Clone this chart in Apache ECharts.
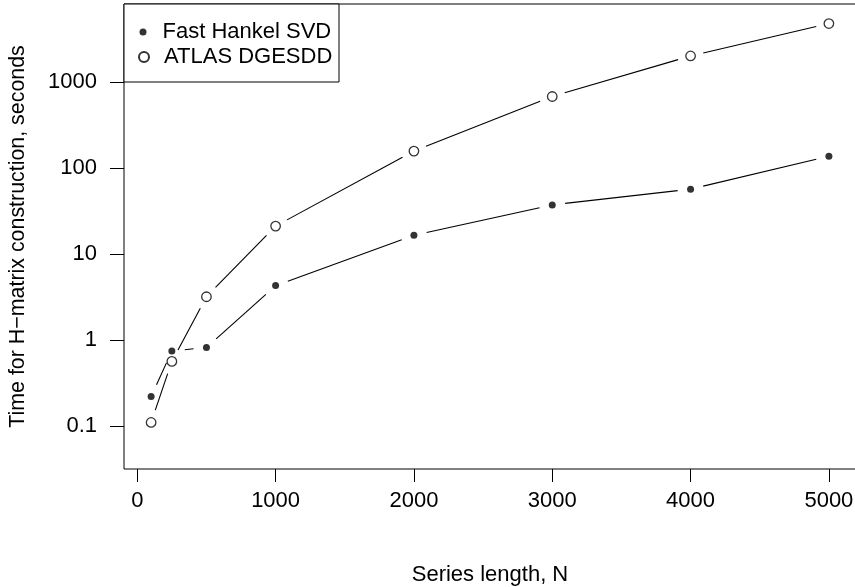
<!DOCTYPE html>
<html lang="en">
<head>
<meta charset="UTF-8">
<title>Hankel SVD timings</title>
<script src="https://cdn.jsdelivr.net/npm/echarts@6/dist/echarts.min.js"></script>
<style>html, body { margin: 0; padding: 0; background: #fff; }</style>
</head>
<body>
<div id="main" style="width:855px;height:587px;"></div>
<script>
// data (log y)
var seriesLength = [100, 250, 500, 1000, 2000, 3000, 4000, 5000];
var fastHankel   = [0.22, 0.745, 0.82, 4.3, 16.6, 37.4, 57, 138];
var atlasDgesdd  = [0.11, 0.565, 3.19, 21.2, 158, 682, 2020, 4815];
var xTickLabels  = [0, 1000, 2000, 3000, 4000, 5000];
var yTickLabels  = [0.1, 1, 10, 100, 1000];

var FONT = 'Liberation Sans, Arial, Helvetica, sans-serif';
var FS = 22;

// plot box (R style, right edge just off the picture)
var box = { left: 124, top: 4, right: 856, bottom: 469 };
var xLim = [-96, 5196];
var yLim = [Math.pow(10, -1.5), Math.pow(10, 3.91)];
var gap = 13; // type="b" gap round each point

function xPix(v) {
    return box.left + (v - xLim[0]) / (xLim[1] - xLim[0]) * (box.right - box.left);
}
function yPix(v) {
    var l0 = Math.log10(yLim[0]), l1 = Math.log10(yLim[1]);
    return box.bottom - (Math.log10(v) - l0) / (l1 - l0) * (box.bottom - box.top);
}

function pairs(xs, ys) {
    return xs.map(function (x, i) { return [x, ys[i]]; });
}
function segments(xs, ys) {
    var out = [];
    for (var i = 0; i < xs.length - 1; i++) out.push([xs[i], ys[i], xs[i + 1], ys[i + 1]]);
    return out;
}
function fmt(v) { return String(+(+v).toPrecision(6)); }

function renderSegment(params, api) {
    var a = api.coord([api.value(0), api.value(1)]);
    var b = api.coord([api.value(2), api.value(3)]);
    var dx = b[0] - a[0], dy = b[1] - a[1];
    var len = Math.sqrt(dx * dx + dy * dy);
    if (len <= 2 * gap) return { type: 'group', children: [] };
    var ux = dx / len, uy = dy / len;
    return {
        type: 'line',
        shape: { x1: a[0] + ux * gap, y1: a[1] + uy * gap, x2: b[0] - ux * gap, y2: b[1] - uy * gap },
        style: { stroke: '#000', lineWidth: 1.1 }
    };
}

var txt = { fontFamily: FONT, fontSize: FS, color: '#000' };
var tickY0 = yPix(yTickLabels[yTickLabels.length - 1]);
var tickY1 = yPix(yTickLabels[0]);
var tickX0 = xPix(xTickLabels[0]);
var tickX1 = xPix(xTickLabels[xTickLabels.length - 1]);

function legendText(shift) {
    return { fontFamily: FONT, fontSize: FS, color: '#000', lineHeight: 24, padding: [0, 0, 0, shift] };
}

var chart = echarts.init(document.getElementById('main'));
chart.setOption({
    animation: false,
    backgroundColor: '#fff',
    grid: [
        { left: box.left, top: box.top, width: box.right - box.left, height: box.bottom - box.top,
          outerBoundsMode: 'none', containLabel: false,
          show: true, borderColor: '#000', borderWidth: 1, backgroundColor: 'transparent' },
        { left: box.left, top: tickY0, width: box.right - box.left, height: tickY1 - tickY0,
          outerBoundsMode: 'none', containLabel: false },
        { left: tickX0, top: box.top, width: tickX1 - tickX0, height: box.bottom - box.top,
          outerBoundsMode: 'none', containLabel: false }
    ],
    xAxis: [
        { gridIndex: 0, type: 'value', min: xLim[0], max: xLim[1],
          name: 'Series length, N', nameLocation: 'middle', nameGap: 95, nameTextStyle: txt,
          axisLine: { show: false, onZero: false }, axisTick: { show: false },
          axisLabel: { show: false }, splitLine: { show: false } },
        { gridIndex: 1, type: 'value', min: 0, max: 1, show: false },
        { gridIndex: 2, type: 'value', min: xTickLabels[0], max: xTickLabels[xTickLabels.length - 1],
          interval: 1000,
          axisLine: { show: false, onZero: false },
          axisTick: { show: true, inside: false, length: 13, lineStyle: { color: '#000', width: 1 } },
          axisLabel: { show: true, margin: 21, formatter: fmt, fontFamily: FONT, fontSize: FS, color: '#000' },
          splitLine: { show: false } }
    ],
    yAxis: [
        { gridIndex: 0, type: 'log', logBase: 10, min: yLim[0], max: yLim[1],
          name: 'Time for H\u2212matrix construction, seconds', nameLocation: 'middle', nameGap: 95,
          nameTextStyle: { fontFamily: FONT, fontSize: 21.4, color: '#000' },
          axisLine: { show: false, onZero: false }, axisTick: { show: false },
          axisLabel: { show: false }, splitLine: { show: false } },
        { gridIndex: 1, type: 'log', logBase: 10, min: yTickLabels[0], max: yTickLabels[yTickLabels.length - 1],
          axisLine: { show: false, onZero: false },
          axisTick: { show: true, inside: false, length: 14, lineStyle: { color: '#000', width: 1 } },
          axisLabel: { show: true, margin: 27, formatter: fmt, fontFamily: FONT, fontSize: FS, color: '#000' },
          splitLine: { show: false } },
        { gridIndex: 2, type: 'value', min: 0, max: 1, show: false }
    ],
    legend: [
        { data: ['Fast Hankel SVD'], left: 139.5, top: 20, padding: 0, itemWidth: 7, itemHeight: 7,
          selectedMode: false, z: 6, textStyle: legendText(11) },
        { data: ['ATLAS DGESDD'], left: 138, top: 45, padding: 0, itemWidth: 10, itemHeight: 10,
          selectedMode: false, z: 6, textStyle: legendText(10) }
    ],
    graphic: [
        { type: 'rect', z: 5, shape: { x: box.left, y: box.top, width: 215, height: 78 },
          style: { fill: '#fff', stroke: '#000', lineWidth: 1 } }
    ],
    series: [
        { type: 'custom', name: 'fast-lines', xAxisIndex: 0, yAxisIndex: 0, silent: true,
          renderItem: renderSegment, encode: { x: [0, 2], y: [1, 3] },
          data: segments(seriesLength, fastHankel) },
        { type: 'custom', name: 'atlas-lines', xAxisIndex: 0, yAxisIndex: 0, silent: true,
          renderItem: renderSegment, encode: { x: [0, 2], y: [1, 3] },
          data: segments(seriesLength, atlasDgesdd) },
        { type: 'scatter', name: 'Fast Hankel SVD', xAxisIndex: 0, yAxisIndex: 0,
          symbol: 'circle', symbolSize: 7, itemStyle: { color: '#000' },
          data: pairs(seriesLength, fastHankel) },
        { type: 'scatter', name: 'ATLAS DGESDD', xAxisIndex: 0, yAxisIndex: 0,
          symbol: 'circle', symbolSize: 9.5,
          itemStyle: { color: '#fff', borderColor: '#000', borderWidth: 1.3 },
          data: pairs(seriesLength, atlasDgesdd) }
    ]
});
</script>
</body>
</html>
